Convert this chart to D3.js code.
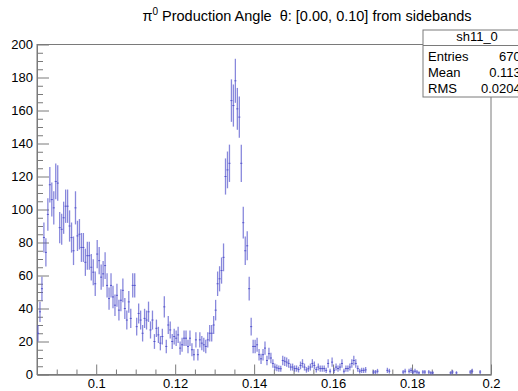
<!DOCTYPE html>
<html><head><meta charset="utf-8">
<script src="https://cdn.jsdelivr.net/npm/d3@7"></script>
<style>
body{margin:0;background:#fff}
svg{display:block}
text{font-family:"Liberation Sans",Arial,Helvetica,sans-serif;fill:#000}
</style>
</head><body>
<svg id="c" width="518" height="391"></svg>
<script>
// ---- data ----
const xMin = 0.085, xMax = 0.2, binWidth = 0.0005;
const counts = [
 25,38,52,83,74,97,115,106,101,117,
 116,89,88,95,102,102,90,83,75,101,
 84,85,77,77,68,72,72,65,62,55,
 73,69,59,61,66,54,46,54,47,42,
 48,39,45,51,40,33,44,34,54,54,
 29,37,33,25,34,33,38,27,33,20,
 28,24,19,23,41,17,30,27,20,23,
 22,24,16,18,22,22,17,22,15,12,
 21,12,21,19,18,17,21,25,25,30,
 39,55,58,63,71,
 120,124,128,166,163,178,161,156,128,92,75,78,52,29,17,17,18,
 12,9.5,12,16,8.5,12.6,10,6.7,4.5,4,
 3.6,3.5,8.5,8,7.5,6.7,4.5,4.5,3.6,3.6,
 3,5.5,6.7,4.5,2.8,3.5,4.5,6.7,5.5,3,
 4.5,3.6,3.6,3.6,2.5,6.7,2,7.5,2.5,4.5,
 3.6,4.5,6.7,2,3.6,3.6,4.5,6.7,8.5,6.7,
 3.6,2,2.5,2.5,2.8,
 0,0,0,1.5,1.5,2,0,0,0,0,
 2.5,2,0,0,0,0,0,0,1.5,2,
 0,2,2.5,1.5,2,1.5,1,0,1.5,1.5,
 0,1.5,1,1,0,0,0,0,0,0,
 0,0,1,1.5,0,1,0,0,0,0,
 0,0,1.5,2,0,0,0,1.5,0,0,
 0,0,0
];
const xTicks = [0.1, 0.12, 0.14, 0.16, 0.18, 0.2];
const xTickLabels = ["0.1", "0.12", "0.14", "0.16", "0.18", "0.2"];
const yTicks = [0, 20, 40, 60, 80, 100, 120, 140, 160, 180, 200];
const statsName = "sh11_0";
const statsLabels = ["Entries", "Mean", "RMS"];
const statsValues = ["6703", "0.1133", "0.02043"];

// ---- layout ----
const L = 37, R = 491, T = 44.5, B = 374.5;
const svg = d3.select("#c");
const x = d3.scaleLinear().domain([xMin, xMax]).range([L, R]);
const y = d3.scaleLinear().domain([0, 200]).range([B, T]);
const axisCol = "#7a7a7a";

// title
const title = svg.append("text").attr("x", 307).attr("y", 21)
  .attr("text-anchor", "middle").attr("xml:space", "preserve")
  .style("font-size", "14.5px").style("white-space", "pre");
title.append("tspan").text("\u03c0");
title.append("tspan").attr("dy", -6).style("font-size", "10px").text("0");
title.append("tspan").attr("dy", 6).text(" Production Angle\u00a0\u00a0\u03b8: [0.00, 0.10] from sidebands");

// frame
svg.append("rect").attr("x", L).attr("y", T).attr("width", R - L).attr("height", B - T)
  .attr("fill", "none").attr("stroke", axisCol).attr("stroke-width", 1);

// y axis
const yMinor = d3.range(0, 201, 5).filter(v => v % 20 !== 0);
const gy = svg.append("g").attr("transform", `translate(${L},0)`);
gy.call(d3.axisLeft(y).tickValues(yTicks).tickSize(-12).tickSizeOuter(0).tickPadding(4)
  .tickFormat(d3.format("d")));
gy.append("g").call(d3.axisLeft(y).tickValues(yMinor).tickSize(-6).tickSizeOuter(0).tickFormat(""));
gy.selectAll(".domain").attr("stroke", axisCol);
gy.selectAll(".tick line").attr("stroke", axisCol);
gy.selectAll(".tick text").style("font-size", "13px").attr("fill", "#000")
  .attr("font-family", "Liberation Sans, Arial, sans-serif");

// x axis
const xMinor = d3.range(0, 24).map(i => +(0.085 + i * 0.005).toFixed(3))
  .filter(v => v <= 0.2 && !xTicks.some(t => Math.abs(t - v) < 1e-9));
const gx = svg.append("g").attr("transform", `translate(0,${B})`);
gx.call(d3.axisBottom(x).tickValues(xTicks).tickSize(-10).tickSizeOuter(0).tickPadding(4)
  .tickFormat((d, i) => xTickLabels[i]));
gx.append("g").call(d3.axisBottom(x).tickValues(xMinor).tickSize(-5).tickSizeOuter(0).tickFormat(""));
gx.selectAll(".domain").attr("stroke", axisCol);
gx.selectAll(".tick line").attr("stroke", axisCol);
gx.selectAll(".tick text").style("font-size", "13px").attr("fill", "#000")
  .attr("font-family", "Liberation Sans, Arial, sans-serif");

// histogram error bars
const bins = counts.map((v, i) => ({lo: xMin + i * binWidth, hi: xMin + (i + 1) * binWidth, v}))
  .filter(d => d.v > 0);
const hcol = "rgb(85,85,205)";
const gh = svg.append("g");
gh.selectAll("line.v").data(bins).join("line").attr("class", "v")
  .attr("x1", d => x((d.lo + d.hi) / 2)).attr("x2", d => x((d.lo + d.hi) / 2))
  .attr("y1", d => y(d.v + Math.sqrt(d.v))).attr("y2", d => y(Math.max(0, d.v - Math.sqrt(d.v))))
  .attr("stroke", hcol).attr("stroke-width", 1.3).attr("stroke-opacity", 0.7);
gh.selectAll("line.h").data(bins).join("line").attr("class", "h")
  .attr("x1", d => x(d.lo)).attr("x2", d => x(d.hi))
  .attr("y1", d => y(d.v)).attr("y2", d => y(d.v))
  .attr("stroke", hcol).attr("stroke-width", 1);

// stats box
const sx = 423, sy = 30, sw = 108, sh = 67;
svg.append("rect").attr("x", sx).attr("y", sy).attr("width", sw).attr("height", sh)
  .attr("fill", "#fff").attr("stroke", axisCol);
svg.append("line").attr("x1", sx).attr("x2", sx + sw).attr("y1", 45.5).attr("y2", 45.5).attr("stroke", axisCol);
svg.append("text").attr("x", sx + sw / 2).attr("y", 41).attr("text-anchor", "middle")
  .style("font-size", "13px").text(statsName);
statsLabels.forEach((lab, i) => {
  const by = 60.5 + i * 16;
  svg.append("text").attr("x", 428).attr("y", by).style("font-size", "13px").text(lab);
  svg.append("text").attr("x", 528).attr("y", by).attr("text-anchor", "end")
    .style("font-size", "13px").text(statsValues[i]);
});
</script>
</body></html>
